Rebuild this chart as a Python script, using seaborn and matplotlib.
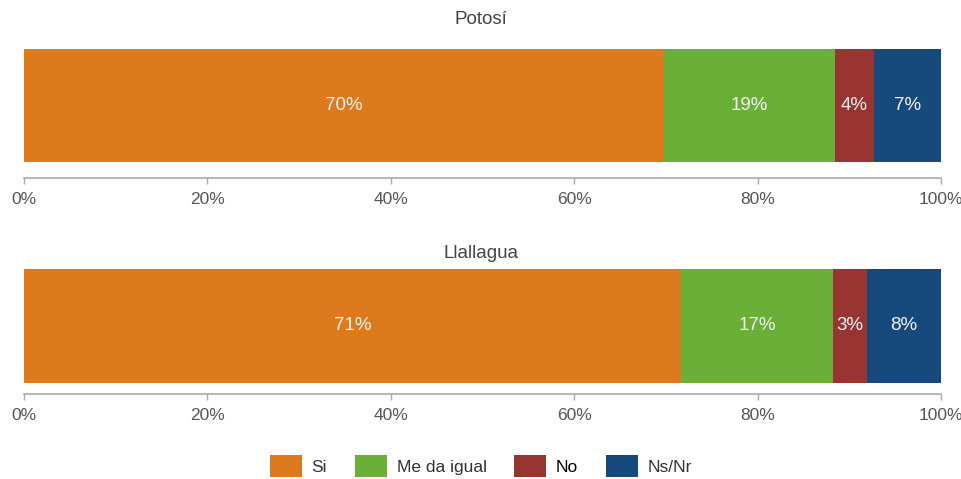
import matplotlib
matplotlib.use('Agg')
import matplotlib.pyplot as plt
import numpy as np
import pandas as pd
import seaborn as sns
from matplotlib.patches import Patch

# ---------------------------------------------------------------------------
# Data
# ---------------------------------------------------------------------------

regions    = ['Potosí', 'Llallagua']
categories = ['Si', 'Me da igual', 'No', 'Ns/Nr']
potosi     = [69.8, 18.6, 4.3, 7.3]
llallagua  = [71.7, 16.5, 3.7, 8.1]
labels_pot = ['70%', '19%', '4%', '7%']
labels_lla = ['71%', '17%', '3%', '8%']
ticks      = [0, 20, 40, 60, 80, 100]
tick_txt   = ['0%', '20%', '40%', '60%', '80%', '100%']
colors     = ['#DD7A1E', '#69AF38', '#983432', '#174A7C']

# ---------------------------------------------------------------------------
# Figure
# ---------------------------------------------------------------------------

sns.set_theme(style='white')
plt.rcParams['font.family'] = ['Liberation Sans', 'DejaVu Sans']

W, H = 962, 479
fig = plt.figure(figsize=(W / 100, H / 100), dpi=100)

# (bar top px, bar bottom px, spine px, title y px)
panels = [
    (potosi,    labels_pot, regions[0], 49, 162.5, 178, 20),
    (llallagua, labels_lla, regions[1], 269, 382.5, 394, 253),
]

x0, x1 = 24, 941
for values, labels, title, top, bot, spine, ty in panels:
    ax = fig.add_axes([x0 / W, 1 - spine / H, (x1 - x0) / W, (spine - top) / H])
    cum = np.cumsum(values)
    df  = pd.DataFrame({'region': [title] * len(values), 'cat': categories,
                        'cum': cum, 'val': values})
    # draw cumulative bars from largest to smallest to get a stacked look
    for i in range(len(values) - 1, -1, -1):
        sns.barplot(data=df.iloc[[i]], x='cum', y='region', color=colors[i],
                    width=1.0, saturation=1, ax=ax, linewidth=0, zorder=2 + (len(values) - i))
    starts = cum - np.array(values)
    for s, v, lab in zip(starts, values, labels):
        ax.text(s + v / 2, 0, lab, ha='center', va='center',
                color='#F2F2F2', fontsize=13.5, zorder=20)
    extra = (spine - bot) / (bot - top)
    ax.set_ylim(0.5 + extra, -0.5)
    ax.set_xlim(0, 100)
    ax.set_xticks(ticks)
    ax.set_xticklabels(tick_txt, fontsize=12.5, color='#555555')
    ax.set_yticks([])
    ax.set_xlabel('')
    ax.set_ylabel('')
    for side in ['left', 'right', 'top']:
        ax.spines[side].set_visible(False)
    ax.spines['bottom'].set_color('#AAAAAA')
    ax.spines['bottom'].set_linewidth(1.2)
    ax.tick_params(axis='x', direction='out', length=4, width=1,
                   color='#AAAAAA', pad=6, bottom=True)
    fig.text(0.5, 1 - ty / H, title, ha='center', va='center',
             fontsize=13.5, color='#444444')

handles = [Patch(facecolor=c, edgecolor='none') for c in colors]
leg = fig.legend(handles, categories, loc='center', ncol=4,
                 bbox_to_anchor=(0.5, 1 - 466 / H), frameon=False,
                 fontsize=12.5, handlelength=1.85, handleheight=1.5,
                 handletextpad=0.55, columnspacing=1.6)
for t in leg.get_texts():
    t.set_color('#333333')
leg.get_texts()[2].set_color('#000000')

fig.savefig('out.png', dpi=100)
